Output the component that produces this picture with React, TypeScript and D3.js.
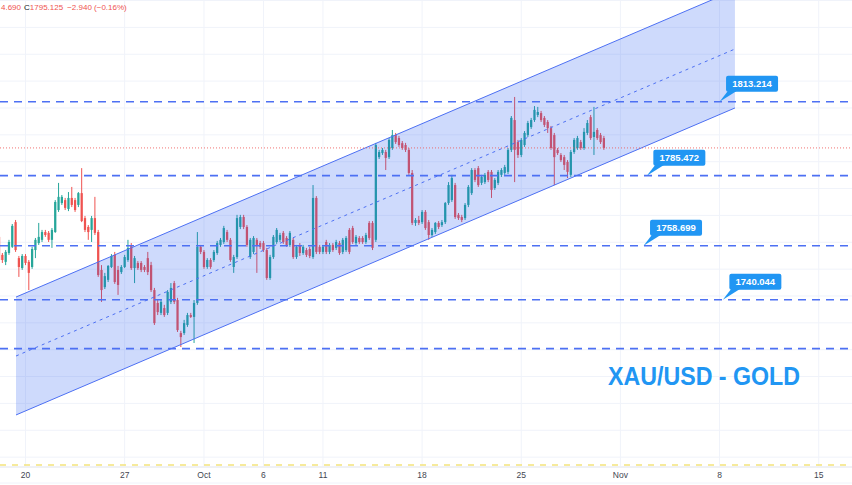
import React from "react";
import * as d3 from "d3";

const W = 852;
const H = 485;

// 4H candles, XAU/USD
const opens = [
  1762.0,1755.3,1752.7,1756.0,1758.3,1767.5,1754.1,1750.4,1754.9,1752.7,
  1750.8,1757.1,1759.7,1760.9,1763.8,1763.5,1760.9,1763.8,1772.0,1774.6,
  1775.7,1772.4,1776.5,1775.7,1773.9,1778.3,1769.0,1765.7,1764.6,1769.0,
  1763.8,1749.7,1743.3,1746.0,1750.8,1755.3,1749.7,1748.9,1750.8,1753.4,
  1759.0,1750.4,1752.3,1752.3,1750.8,1754.1,1751.5,1742.2,1737.4,1733.7,
  1735.5,1733.7,1737.8,1744.8,1738.5,1726.2,1726.2,1729.2,1732.9,1732.2,
  1737.4,1758.3,1756.4,1750.8,1753.4,1753.4,1756.0,1759.0,1760.1,1763.8,
  1760.9,1750.8,1754.5,1765.7,1769.4,1765.7,1754.5,1756.4,1760.9,1759.7,
  1759.7,1757.1,1746.7,1754.5,1760.1,1760.9,1763.5,1761.6,1759.0,1760.9,
  1754.5,1759.0,1756.0,1757.1,1757.5,1754.5,1776.5,1758.3,1756.4,1760.1,
  1756.4,1759.0,1757.9,1759.7,1756.4,1757.1,1764.6,1765.3,1759.7,1761.6,
  1761.6,1760.1,1767.2,1767.2,1760.9,1791.7,1793.2,1793.6,1791.7,1795.1,
  1799.9,1798.8,1796.9,1796.2,1794.4,1785.8,1767.2,1768.3,1767.5,1771.3,
  1767.5,1762.7,1763.8,1767.2,1766.4,1767.5,1774.6,1775.7,1781.3,1770.2,
  1769.4,1769.0,1773.9,1778.3,1786.9,1787.6,1782.1,1782.4,1786.2,1786.2,
  1780.2,1782.1,1785.1,1785.8,1786.2,1794.4,1805.5,1797.3,1792.5,1796.2,
  1799.9,1802.9,1805.5,1807.4,1808.1,1806.3,1804.8,1802.5,1799.9,1794.4,
  1792.5,1791.7,1789.9,1785.1,1793.6,1795.1,1797.3,1795.1,1800.7,1806.6,
  1799.2,1801.8,1799.9,1798.8,
];
const highs = [
  1763.5,1756.0,1757.1,1760.9,1766.8,1768.3,1754.9,1755.6,1755.6,1753.4,
  1758.3,1761.6,1767.2,1764.6,1764.6,1764.2,1765.3,1775.7,1782.1,1777.6,
  1776.5,1778.7,1780.6,1776.5,1778.7,1787.6,1769.8,1766.4,1769.8,1776.9,
  1764.6,1751.5,1748.6,1751.5,1755.6,1756.4,1751.2,1751.5,1755.3,1760.9,
  1759.7,1754.9,1753.0,1753.0,1751.5,1756.4,1752.7,1743.0,1738.5,1738.5,
  1736.7,1742.2,1744.8,1745.6,1739.3,1727.0,1731.1,1733.7,1733.7,1738.5,
  1763.8,1759.0,1757.1,1754.1,1754.1,1757.1,1760.5,1761.6,1766.1,1764.6,
  1761.6,1755.3,1770.2,1770.2,1770.2,1766.4,1761.6,1762.3,1761.6,1760.5,
  1760.5,1757.9,1755.3,1762.7,1765.3,1763.5,1764.2,1762.3,1764.2,1761.6,
  1759.0,1759.7,1759.0,1757.9,1758.3,1781.3,1777.2,1759.0,1759.0,1760.9,
  1759.7,1759.7,1760.9,1760.5,1761.6,1762.3,1765.3,1766.1,1762.7,1762.3,
  1762.3,1763.5,1767.9,1767.9,1797.0,1794.4,1795.1,1794.4,1798.8,1801.8,
  1800.7,1799.6,1797.7,1797.0,1795.1,1786.9,1769.0,1769.8,1772.0,1772.0,
  1768.3,1765.3,1767.5,1767.9,1768.3,1775.0,1782.4,1785.1,1782.1,1770.9,
  1770.2,1774.6,1781.3,1787.6,1787.6,1788.4,1785.1,1785.8,1786.9,1786.9,
  1783.9,1786.9,1787.6,1788.8,1795.1,1807.0,1814.1,1798.1,1798.8,1801.4,
  1805.2,1806.3,1810.7,1810.4,1808.9,1807.0,1805.5,1803.3,1800.7,1795.1,
  1793.2,1792.5,1790.6,1794.4,1798.8,1799.6,1798.1,1802.5,1805.5,1807.4,
  1810.4,1802.5,1800.7,1799.6,
];
const lows = [
  1752.7,1752.3,1751.5,1755.3,1757.9,1756.4,1747.1,1749.7,1751.5,1742.2,
  1750.1,1754.1,1759.0,1760.1,1762.0,1760.1,1757.9,1763.5,1771.3,1773.9,
  1772.0,1771.6,1773.1,1771.3,1773.1,1767.5,1763.8,1760.9,1760.1,1762.7,
  1747.1,1737.8,1742.6,1745.2,1750.4,1744.5,1740.4,1748.2,1750.4,1752.7,
  1749.7,1744.8,1749.7,1748.9,1748.9,1747.8,1741.5,1729.2,1732.9,1732.9,
  1732.2,1732.9,1737.0,1737.0,1726.6,1721.0,1725.5,1728.5,1731.8,1722.5,
  1736.7,1755.6,1750.1,1750.1,1750.1,1752.7,1755.3,1758.3,1759.4,1760.1,
  1752.7,1748.6,1753.8,1764.9,1764.9,1758.3,1753.8,1755.6,1748.6,1757.5,
  1756.4,1746.0,1746.0,1753.8,1759.4,1760.1,1759.4,1758.3,1758.3,1753.8,
  1753.8,1754.9,1755.3,1754.5,1754.1,1753.8,1755.6,1755.6,1755.6,1755.6,
  1755.6,1756.4,1757.1,1755.3,1755.6,1756.4,1755.6,1759.4,1759.0,1759.4,
  1759.4,1759.4,1760.9,1757.1,1760.1,1791.0,1792.5,1786.9,1791.0,1794.4,
  1796.6,1795.5,1794.4,1793.6,1785.1,1766.4,1766.1,1766.4,1766.8,1764.6,
  1760.9,1762.0,1763.1,1764.9,1765.7,1766.8,1773.9,1775.0,1768.7,1768.3,
  1767.5,1768.3,1773.1,1777.6,1782.4,1780.6,1781.3,1781.7,1782.4,1776.5,
  1779.5,1781.3,1784.3,1785.1,1785.4,1793.6,1782.4,1791.4,1791.7,1795.5,
  1799.2,1802.2,1804.8,1806.6,1804.8,1802.9,1800.7,1794.4,1781.3,1792.5,
  1789.9,1786.9,1783.9,1784.3,1792.9,1794.4,1794.4,1794.4,1799.9,1798.1,
  1792.5,1798.1,1796.6,1794.4,
];
const closes = [
  1753.4,1753.4,1756.4,1760.1,1766.1,1757.1,1750.8,1754.9,1752.3,1748.6,
  1757.5,1760.9,1762.0,1763.8,1762.7,1760.9,1764.6,1775.0,1776.9,1776.9,
  1772.8,1776.5,1773.9,1772.0,1778.3,1767.9,1764.6,1763.8,1769.0,1763.5,
  1747.8,1742.2,1747.4,1751.2,1754.9,1745.2,1744.1,1750.8,1754.5,1757.9,
  1750.4,1754.1,1750.4,1749.7,1749.7,1748.9,1742.2,1729.9,1734.0,1737.8,
  1732.9,1741.5,1743.0,1737.8,1727.3,1724.7,1729.9,1732.9,1732.2,1737.4,
  1758.3,1756.4,1750.8,1753.4,1750.8,1756.4,1759.7,1760.9,1765.3,1760.9,
  1753.4,1754.5,1769.0,1769.4,1765.7,1759.0,1760.9,1761.6,1759.0,1758.3,
  1757.1,1746.7,1754.5,1762.0,1764.6,1762.7,1760.1,1759.0,1763.5,1754.5,
  1758.3,1756.0,1758.3,1755.3,1754.9,1776.5,1756.4,1756.4,1758.3,1756.4,
  1759.0,1757.1,1760.1,1756.0,1760.9,1761.6,1756.4,1760.1,1762.0,1760.1,
  1760.1,1762.7,1761.6,1757.9,1796.2,1793.6,1794.4,1791.4,1798.1,1799.9,
  1797.3,1796.2,1795.1,1794.4,1785.8,1767.2,1768.3,1767.2,1771.3,1765.3,
  1762.7,1764.6,1767.2,1765.7,1767.5,1774.6,1781.3,1783.9,1769.4,1769.0,
  1768.3,1773.9,1780.6,1786.9,1783.2,1781.3,1784.3,1785.1,1783.2,1779.5,
  1783.2,1786.2,1786.9,1788.0,1794.4,1806.3,1794.4,1792.5,1798.1,1800.7,
  1804.4,1805.5,1809.3,1808.5,1805.5,1803.7,1802.5,1795.1,1791.7,1793.2,
  1790.6,1788.8,1786.2,1793.6,1798.1,1798.8,1795.1,1801.1,1804.4,1798.8,
  1801.1,1798.8,1797.3,1795.125,
];

// time axis (bar index of the first bar of each labelled day)
const tickLabels = ["20", "27", "Oct", "6", "11", "18", "25", "Nov", "8", "15"];
const tickBars = [8, 38, 62, 80, 98, 128, 158, 188, 218, 248];

// horizontal levels drawn on the chart
const levelPrices = [1812.3, 1784.8, 1758.7, 1738.6, 1720.4];
const levelLabels = ["1813.214", "1785.472", "1758.699", "1740.044", ""];
const calloutBars = [218, 196, 195, 219, -1];
const bottomLevel = 1677.1;

// ascending channel
const channelBars = [5.13, 222.66];
const channelLower = [1695.7, 1810.0];
const channelWidth = 43.9;

// legend (visible part of the OHLC header)
const legendLow = "4.690";
const legendClose = "1795.125";
const legendChange = "\u22122.940 (\u22120.16%)";
const titleText = "XAU/USD - GOLD";

const UP = "#26a69a";
const DOWN = "#ef5350";
const BLUE = "#2196f3";
const LINE = "#4d70f3";

export default function App() {
  const x = d3
    .scaleLinear()
    .domain([tickBars[0], tickBars[tickBars.length - 1]])
    .range([25.5, 818.7]);
  const y = d3.scaleLinear().domain([1676.7, 1850.2]).range([466, 0]);
  const step = x(1) - x(0);
  const bw = step * 0.68;

  const gridPrices = d3.range(1680, 1851, 10);

  const cx0 = x(channelBars[0]);
  const cx1 = x(channelBars[1]);
  const lo0 = y(channelLower[0]);
  const lo1 = y(channelLower[1]);
  const up0 = y(channelLower[0] + channelWidth);
  const up1 = y(channelLower[1] + channelWidth);
  const mid0 = y(channelLower[0] + channelWidth / 2);
  const mid1 = y(channelLower[1] + channelWidth / 2);

  const font = "'Liberation Sans', Arial, sans-serif";

  return (
    <svg
      width={W}
      height={H}
      viewBox={`0 0 ${W} ${H}`}
      style={{ position: "absolute", left: 0, top: 0, display: "block", background: "#fff" }}
    >
      <rect x={0} y={0} width={W} height={H} fill="#ffffff" />
      {/* grid */}
      {gridPrices.map((p) => (
        <line key={"g" + p} x1={0} x2={W} y1={y(p)} y2={y(p)} stroke="#f0f3fa" strokeWidth={1} />
      ))}
      {tickBars.map((b) => (
        <line key={"v" + b} x1={x(b)} x2={x(b)} y1={0} y2={466} stroke="#f0f3fa" strokeWidth={1} />
      ))}

      {/* candles */}
      {closes.map((c, i) => {
        const o = opens[i];
        const up = c >= o;
        const col = up ? UP : DOWN;
        const xc = x(i);
        const top = y(Math.max(o, c));
        const bot = y(Math.min(o, c));
        return (
          <g key={"c" + i}>
            <line x1={xc} x2={xc} y1={y(highs[i])} y2={y(lows[i])} stroke={col} strokeWidth={1} />
            <rect x={xc - bw / 2} y={top} width={bw} height={Math.max(1, bot - top)} fill={col} />
          </g>
        );
      })}

      {/* channel */}
      <polygon
        points={`${cx0},${lo0} ${cx1},${lo1} ${cx1},${up1} ${cx0},${up0}`}
        fill="rgba(33, 87, 243, 0.22)"
      />
      <line x1={cx0} y1={lo0} x2={cx1} y2={lo1} stroke={LINE} strokeWidth={1} />
      <line x1={cx0} y1={up0} x2={cx1} y2={up1} stroke={LINE} strokeWidth={1} />
      <line x1={cx0} y1={mid0} x2={cx1} y2={mid1} stroke={LINE} strokeWidth={1} strokeDasharray="3 4" />

      {/* horizontal levels */}
      {levelPrices.map((p, k) => (
        <line
          key={"l" + k}
          x1={0}
          x2={W}
          y1={y(p)}
          y2={y(p)}
          stroke={LINE}
          strokeWidth={1.6}
          strokeDasharray="8 6"
        />
      ))}
      <line
        x1={0}
        x2={W}
        y1={y(bottomLevel)}
        y2={y(bottomLevel)}
        stroke="#f3e47c"
        strokeWidth={1.6}
        strokeDasharray="6 6"
      />

      {/* last price line */}
      <line
        x1={0}
        x2={W}
        y1={y(+legendClose)}
        y2={y(+legendClose)}
        stroke={DOWN}
        strokeWidth={1}
        strokeDasharray="1 2"
        opacity={0.8}
      />

      {/* callouts */}
      {levelLabels.map((t, k) => {
        if (!t || calloutBars[k] < 0) return null;
        const px = x(calloutBars[k]);
        const py = y(levelPrices[k]);
        const bx = px + 6.5;
        const by = py - 26;
        const bwid = 52;
        const bh = 16;
        return (
          <g key={"co" + k}>
            <polygon points={`${bx + 2},${by + bh - 1} ${bx + 11},${by + bh - 1} ${px},${py}`} fill={BLUE} />
            <rect x={bx} y={by} width={bwid} height={bh} rx={2} fill={BLUE} />
            <text
              x={bx + bwid / 2}
              y={by + 11.5}
              textAnchor="middle"
              fill="#ffffff"
              fontSize={9.5}
              fontWeight="bold"
              fontFamily={font}
            >
              {t}
            </text>
          </g>
        );
      })}

      {/* title */}
      <text
        x={608}
        y={385}
        fill={BLUE}
        fontSize={25}
        fontWeight="bold"
        fontFamily={font}
        textLength={192}
        lengthAdjust="spacingAndGlyphs"
      >
        {titleText}
      </text>

      {/* legend */}
      <text x={1} y={10} fontSize={8} fontFamily={font} fill={DOWN}>
        {legendLow}
      </text>
      <text x={24} y={10} fontSize={8} fontFamily={font}>
        <tspan fill="#131722">C</tspan>
        <tspan fill={DOWN}>{legendClose}</tspan>
        <tspan fill={DOWN} dx={4}>
          {legendChange}
        </tspan>
      </text>

      {/* x axis */}
      <line x1={0} x2={W} y1={467} y2={467} stroke="#e0e3eb" strokeWidth={1} />
      <line x1={0} x2={W} y1={483} y2={483} stroke="#f0f3fa" strokeWidth={1} />
      {tickLabels.map((t, k) => (
        <text
          key={"t" + k}
          x={x(tickBars[k])}
          y={478}
          textAnchor="middle"
          fontSize={8.5}
          fontFamily={font}
          fill="#434651"
        >
          {t}
        </text>
      ))}
    </svg>
  );
}
